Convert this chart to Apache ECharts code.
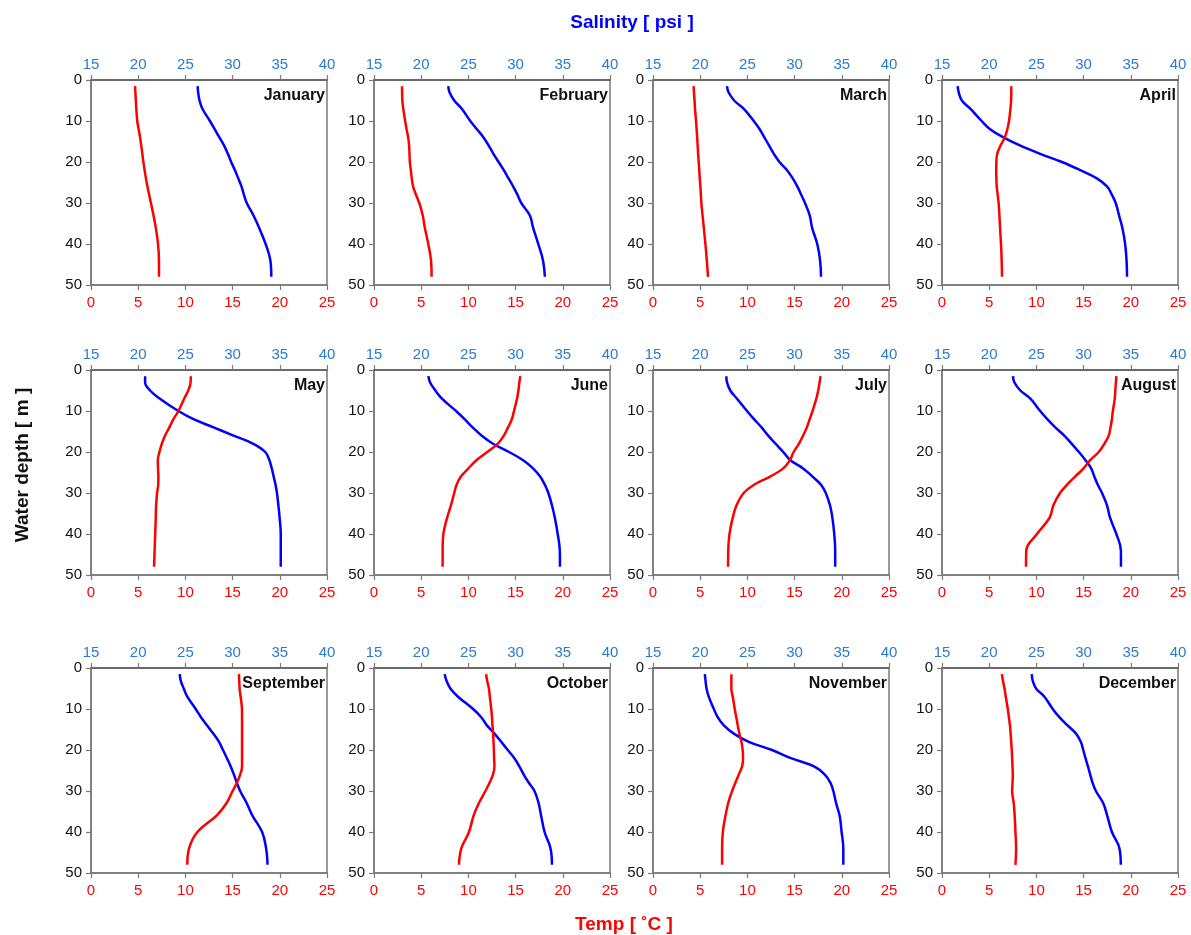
<!DOCTYPE html>
<html>
<head>
<meta charset="utf-8">
<script src="https://cdn.jsdelivr.net/npm/echarts@6/dist/echarts.min.js"></script>
<style>
html,body{margin:0;padding:0;background:#fff;}
#chart{width:1191px;height:935px;}
</style>
</head>
<body>
<div id="chart"></div>
<script>
// ---------- DATA ----------
const months = ['January','February','March','April','May','June','July','August','September','October','November','December'];
const depth = [1.5, 3, 5, 7, 10, 12, 14, 16, 18, 20, 22, 24, 26, 28, 30, 33, 36, 40, 44, 48];
const tempRange = [0, 25];
const salRange = [15, 40];
const depthRange = [0, 50];

const tempJan = [4.67, 4.7, 4.75, 4.8, 4.9, 5.05, 5.2, 5.32, 5.44, 5.55, 5.68, 5.82, 5.98, 6.16, 6.35, 6.62, 6.86, 7.1, 7.2, 7.2];
const salJan  = [26.3, 26.35, 26.5, 26.8, 27.6, 28.1, 28.6, 29.1, 29.5, 29.85, 30.25, 30.6, 30.95, 31.2, 31.5, 32.2, 32.8, 33.5, 34.0, 34.1];
const tempFeb = [2.97, 2.98, 3.0, 3.1, 3.3, 3.45, 3.62, 3.72, 3.76, 3.8, 3.9, 4.0, 4.15, 4.45, 4.8, 5.16, 5.38, 5.75, 6.04, 6.1];
const salFeb  = [22.87, 23.0, 23.5, 24.3, 25.2, 25.9, 26.6, 27.15, 27.65, 28.2, 28.75, 29.25, 29.75, 30.2, 30.6, 31.5, 31.85, 32.4, 32.9, 33.1];
const tempMar = [4.3, 4.34, 4.4, 4.45, 4.56, 4.62, 4.68, 4.73, 4.78, 4.84, 4.9, 4.95, 5.02, 5.07, 5.12, 5.25, 5.38, 5.55, 5.7, 5.83];
const salMar  = [22.84, 23.0, 23.6, 24.6, 25.67, 26.3, 26.8, 27.3, 27.8, 28.4, 29.2, 29.8, 30.3, 30.7, 31.1, 31.6, 31.85, 32.4, 32.7, 32.8];
const tempApr = [7.34, 7.34, 7.32, 7.25, 7.1, 6.92, 6.65, 6.2, 5.85, 5.76, 5.74, 5.76, 5.8, 5.9, 6.0, 6.08, 6.15, 6.25, 6.32, 6.36];
const salApr  = [16.66, 16.77, 17.1, 18.0, 19.2, 20.1, 21.5, 23.3, 25.4, 27.7, 29.65, 31.4, 32.5, 33.0, 33.4, 33.75, 34.1, 34.4, 34.55, 34.6];
const tempMay = [10.57, 10.55, 10.3, 9.87, 9.26, 8.73, 8.3, 7.85, 7.5, 7.25, 7.08, 7.1, 7.14, 7.12, 7.0, 6.9, 6.86, 6.8, 6.74, 6.68];
const salMay  = [20.73, 20.73, 21.26, 22.3, 24.26, 25.86, 27.98, 30.1, 32.2, 33.46, 33.9, 34.15, 34.35, 34.55, 34.7, 34.85, 34.98, 35.1, 35.1, 35.1];
const tempJun = [15.5, 15.4, 15.3, 15.15, 14.83, 14.6, 14.2, 13.75, 13.1, 12.0, 10.85, 10.0, 9.2, 8.75, 8.5, 8.15, 7.75, 7.35, 7.27, 7.27];
const salJun  = [20.76, 20.93, 21.5, 22.2, 23.69, 24.6, 25.45, 26.4, 27.6, 29.3, 30.8, 31.85, 32.6, 33.1, 33.47, 33.85, 34.15, 34.46, 34.68, 34.7];
const tempJul = [17.75, 17.65, 17.5, 17.3, 16.9, 16.6, 16.3, 15.9, 15.45, 14.9, 14.5, 13.8, 12.4, 10.7, 9.6, 8.85, 8.45, 8.1, 7.97, 7.95];
const salJul  = [22.77, 22.84, 23.19, 23.9, 24.96, 25.7, 26.5, 27.2, 28.0, 28.8, 29.55, 30.9, 31.9, 32.8, 33.3, 33.75, 34.0, 34.2, 34.3, 34.3];
const tempAug = [18.47, 18.42, 18.36, 18.3, 18.1, 18.0, 17.85, 17.66, 17.2, 16.6, 15.7, 15.0, 14.1, 13.24, 12.5, 11.8, 11.4, 10.06, 8.93, 8.9];
const salAug  = [22.52, 22.66, 23.3, 24.36, 25.4, 26.15, 27.0, 27.95, 28.75, 29.5, 30.2, 30.8, 31.14, 31.5, 31.95, 32.48, 32.8, 33.47, 33.95, 33.96];
const tempSep = [15.67, 15.7, 15.74, 15.85, 15.99, 16.0, 16.0, 16.0, 16.0, 16.0, 16.0, 16.0, 15.8, 15.46, 15.0, 14.35, 13.3, 11.27, 10.39, 10.2];
const salSep  = [24.4, 24.5, 24.82, 25.2, 26.09, 26.65, 27.3, 27.95, 28.56, 28.98, 29.4, 29.8, 30.14, 30.45, 30.8, 31.5, 32.1, 33.13, 33.55, 33.7];
const tempOct = [11.88, 11.98, 12.17, 12.27, 12.42, 12.5, 12.55, 12.62, 12.66, 12.7, 12.72, 12.76, 12.6, 12.24, 11.8, 11.1, 10.55, 10.06, 9.25, 9.0];
const salOct  = [22.49, 22.66, 23.09, 23.9, 25.5, 26.36, 26.96, 27.76, 28.47, 29.17, 29.87, 30.4, 30.86, 31.4, 32.0, 32.44, 32.7, 33.07, 33.7, 33.85];
const tempNov = [8.3, 8.3, 8.3, 8.45, 8.66, 8.82, 8.98, 9.15, 9.37, 9.5, 9.54, 9.44, 9.08, 8.73, 8.38, 7.96, 7.68, 7.4, 7.32, 7.32];
const salNov  = [20.49, 20.56, 20.67, 20.9, 21.45, 21.85, 22.5, 23.56, 25.14, 27.6, 29.6, 32.05, 33.2, 33.8, 34.1, 34.4, 34.77, 34.98, 35.16, 35.16];
const tempDec = [6.34, 6.45, 6.62, 6.76, 6.97, 7.08, 7.2, 7.27, 7.33, 7.39, 7.43, 7.47, 7.5, 7.47, 7.43, 7.6, 7.7, 7.78, 7.85, 7.78];
const salDec  = [24.51, 24.6, 24.96, 25.85, 26.73, 27.43, 28.3, 29.2, 29.7, 29.96, 30.2, 30.46, 30.7, 30.95, 31.3, 32.08, 32.5, 33.0, 33.8, 33.94];

const tempAll = [tempJan, tempFeb, tempMar, tempApr, tempMay, tempJun, tempJul, tempAug, tempSep, tempOct, tempNov, tempDec];
const salAll  = [salJan, salFeb, salMar, salApr, salMay, salJun, salJul, salAug, salSep, salOct, salNov, salDec];

// ---------- LAYOUT ----------
const colLeft = [91, 374, 653, 942];
const rowTop = [80, 370, 668];
const W = 236, H = 205;
const FONT = '"Liberation Sans", Arial, sans-serif';
const axisGray = '#7a7a7a';

const grids = [], xAxes = [], yAxes = [], series = [], graphics = [];

months.forEach((m, i) => {
  const c = i % 4, r = Math.floor(i / 4);
  const left = colLeft[c], top = rowTop[r];
  grids.push({left: left, top: top, width: W, height: H, show: true,
              borderColor: axisGray, borderWidth: 1.5, backgroundColor: 'transparent'});
  const axLine = {show: true, onZero: false, lineStyle: {color: axisGray, width: 1.5}};
  const tick = {show: true, inside: false, length: 5, lineStyle: {color: axisGray, width: 1.2}};
  xAxes.push({
    type: 'value', gridIndex: i, position: 'bottom',
    min: tempRange[0], max: tempRange[1], interval: 5,
    axisLine: axLine, axisTick: tick, splitLine: {show: false},
    axisLabel: {color: '#ff0000', fontSize: 15, fontFamily: FONT, margin: 10}
  });
  xAxes.push({
    type: 'value', gridIndex: i, position: 'top',
    min: salRange[0], max: salRange[1], interval: 5,
    axisLine: {show: true, onZero: false, lineStyle: {color: '#5a5a5a', width: 1.5}}, axisTick: tick, splitLine: {show: false},
    axisLabel: {color: '#2a7bd0', fontSize: 15, fontFamily: FONT, margin: 8}
  });
  yAxes.push({
    type: 'value', gridIndex: i, inverse: true,
    min: depthRange[0], max: depthRange[1], interval: 10,
    axisLine: axLine, axisTick: tick, splitLine: {show: false},
    axisLabel: {color: '#111', fontSize: 15, fontFamily: FONT, margin: 9}
  });
  series.push({
    type: 'line', xAxisIndex: 2 * i + 1, yAxisIndex: i,
    data: depth.map((d, k) => [salAll[i][k], d]),
    smooth: 0.4, showSymbol: false, symbol: 'none',
    lineStyle: {color: '#0000ff', width: 2.5}, silent: true, animation: false
  });
  series.push({
    type: 'line', xAxisIndex: 2 * i, yAxisIndex: i,
    data: depth.map((d, k) => [tempAll[i][k], d]),
    smooth: 0.4, showSymbol: false, symbol: 'none',
    lineStyle: {color: '#ff0000', width: 2.5}, silent: true, animation: false
  });
  graphics.push({
    type: 'text', x: left + W - 2, y: top + 16,
    style: {text: m, fill: '#111', font: 'bold 16px ' + FONT, textAlign: 'right', textVerticalAlign: 'middle'}
  });
});

graphics.push({type: 'text', x: 632, y: 23,
  style: {text: 'Salinity [ psi ]', fill: '#0000ff', font: 'bold 19px ' + FONT, textAlign: 'center', textVerticalAlign: 'middle'}});
graphics.push({type: 'text', x: 624, y: 925,
  style: {text: 'Temp [ ˚C ]', fill: '#ff0000', font: 'bold 19px ' + FONT, textAlign: 'center', textVerticalAlign: 'middle'}});
graphics.push({type: 'text', x: 23, y: 465, rotation: Math.PI / 2,
  style: {text: 'Water depth [ m ]', fill: '#111', font: 'bold 19px ' + FONT, textAlign: 'center', textVerticalAlign: 'middle'}});

const chart = echarts.init(document.getElementById('chart'), null, {renderer: 'canvas'});
chart.setOption({
  animation: false,
  backgroundColor: '#ffffff',
  grid: grids, xAxis: xAxes, yAxis: yAxes, series: series,
  graphic: graphics
});
</script>
</body>
</html>
